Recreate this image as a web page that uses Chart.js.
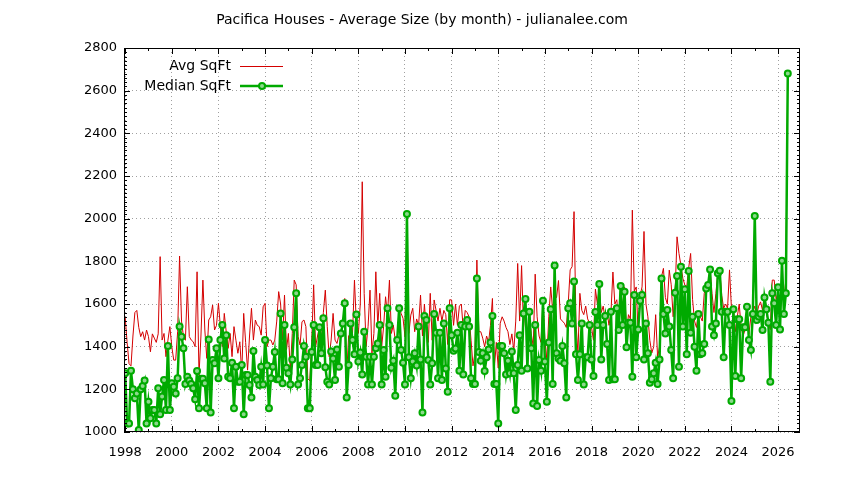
<!DOCTYPE html>
<html>
<head>
<meta charset="utf-8">
<script src="https://cdn.jsdelivr.net/npm/chart.js@4.4.1/dist/chart.umd.min.js"></script>
<style>html,body{margin:0;background:#fff}canvas{display:block}</style>
</head>
<body>
<canvas id="chart" width="844" height="480"></canvas>
<script>
const chartTitle = 'Pacifica Houses - Average Size (by month) - julianalee.com';
const seriesNames = ['Avg SqFt', 'Median SqFt'];
const startYear = 1998; // first month = Jan 1998, one value per month
const yearTicks = [1998,2000,2002,2004,2006,2008,2010,2012,2014,2016,2018,2020,2022,2024,2026];
const sqftTicks = [1000,1200,1400,1600,1800,2000,2200,2400,2600,2800];

const avgSqft = [
  1540,1420,1320,1310,1450,1560,1570,1490,1447,1470,1431,1478,1447,1376,1460,1440,1420,1460,1822,1431,1462,1353,1430,1494,
  1400,1337,1337,1470,1825,1520,1447,1430,1681,1447,1431,1423,1400,1751,1267,1450,1712,1478,1345,1525,1540,1595,1478,
  1500,1603,1494,1400,1556,1470,1392,1462,1353,1494,1430,1369,1423,1275,1556,1420,1290,1450,1580,1431,1525,1500,1494,1454,
  1587,1603,1400,1431,1431,1408,1431,1520,1658,1600,1431,1642,1384,1462,1290,1462,1712,1690,1447,1408,1517,1525,1494,1250,1240,1420,
  1690,1400,1450,1494,1431,1560,1665,1494,1353,1431,1556,1431,1415,1454,1470,1494,1626,1275,1450,1462,1462,1712,1501,1462,1600,2173,
  1650,1400,1494,1665,1369,1462,1751,1494,1650,1400,1494,1634,1550,1712,1462,1501,1431,1415,1587,1556,1533,1447,2025,1462,1548,
  1580,1470,1530,1500,1642,1450,1600,1470,1420,1650,1430,1619,1570,1520,1580,1520,1570,1550,1410,1620,1619,1500,1600,1500,1590,
  1600,1480,1570,1560,1540,1430,1310,1370,1806,1470,1470,1440,1400,1450,1420,1500,1626,1300,1420,1300,1510,1540,1520,1490,1470,
  1410,1460,1380,1520,1790,1520,1780,1490,1600,1450,1540,1460,1400,1740,1540,1450,1420,1620,1430,1340,1540,1680,1570,1640,1630,
  1710,1530,1520,1510,1490,1600,1760,1775,2033,1510,1370,1650,1570,1550,1590,1530,1510,1490,1430,1670,1600,1680,1560,1590,1530,1560,
  1500,1560,1750,1600,1620,1520,1700,1560,1680,1460,1550,1530,2040,1660,1680,1460,1640,1680,1940,1600,1540,1430,1370,1400,
  1550,1350,1400,1728,1767,1630,1600,1759,1690,1540,1650,1915,1837,1780,1720,1690,1680,1770,1837,1620,1520,1490,1560,1540,
  1520,1650,1690,1700,1770,1650,1560,1650,1750,1760,1640,1580,1600,1580,1760,1580,1580,1470,1540,1600,1490,1450,1480,1540,
  1460,1540,1560,1590,1550,1590,1610,1570,1650,1560,1510,1480,1712,1712,1620,1660,1560,1660,1620,1712,2681
];

const medianSqft = [
  1275,1040,1040,1287,1200,1158,1181,1009,1200,1216,1241,1040,1142,1064,1103,1103,1040,1205,1083,1166,1244,1103,1403,1103,
  1228,1212,1181,1252,1494,1447,1392,1225,1259,1241,1225,1205,1153,1286,1111,1250,1250,1228,1111,1434,1091,1337,1322,
  1392,1252,1431,1501,1345,1454,1259,1252,1325,1111,1306,1236,1236,1314,1083,1267,1267,1220,1162,1380,1259,1244,1220,1306,
  1223,1431,1312,1111,1252,1306,1375,1247,1247,1556,1228,1501,1301,1275,1223,1340,1491,1650,1223,1252,1314,1403,1353,1111,1111,1375,1501,1314,
  1314,1491,1369,1533,1303,1236,1223,1377,1345,1244,1387,1306,1462,1509,1603,1162,1314,1509,1431,1364,1551,1330,1373,1270,1470,
  1353,1223,1353,1223,1353,1392,1415,1501,1223,1384,1259,1580,1501,1301,1334,1170,1431,1580,1384,1325,1223,2022,1350,1252,
  1330,1369,1312,1494,1340,1091,1544,1525,1337,1223,1322,1553,1465,1252,1465,1244,1509,1298,1189,1580,1454,1381,1391,1465,1287,
  1501,1270,1494,1525,1494,1252,1225,1225,1720,1375,1334,1369,1286,1350,1387,1419,1544,1225,1225,1040,1403,1403,1369,1270,1334,
  1275,1377,1275,1103,1314,1454,1287,1556,1623,1298,1564,1392,1134,1501,1122,1337,1287,1615,1330,1142,1419,1575,1225,1781,1369,
  1345,1334,1403,1322,1162,1580,1603,1509,1705,1365,1244,1365,1509,1223,1350,1350,1501,1340,1262,1562,1501,1694,1340,1501,1544,1412,
  1244,1564,1247,1247,1580,1478,1684,1501,1658,1397,1512,1512,1259,1642,1350,1481,1615,1642,1340,1509,1369,1231,1247,1275,
  1325,1225,1340,1720,1553,1462,1572,1494,1384,1252,1653,1731,1306,1775,1494,1669,1364,1755,1465,1540,1400,1287,1553,1365,
  1369,1412,1673,1689,1762,1494,1454,1509,1744,1756,1564,1350,1564,1564,1501,1145,1575,1262,1528,1528,1252,1491,1491,1587,
  1431,1384,1553,2012,1525,1541,1553,1478,1631,1575,1512,1236,1650,1603,1501,1678,1481,1803,1553,1650,2681
];

const RED = '#d40000', GREEN = '#00aa00', GREEN_PT = '#8cd88c';
const FAMILY = '"DejaVu Sans", sans-serif';
const TEXT_FONT = '14px ' + FAMILY;
const toPoints = arr => arr.map((v, i) => ({x: startYear + i / 12, y: v}));

// gnuplot-like frame: border, inward tics on all sides, title and key
const Frame = {
  id: 'frame',
  afterDraw(chart) {
    const {ctx, chartArea: {left, right, top, bottom}, scales: {x, y}} = chart;
    ctx.save();
    ctx.strokeStyle = '#000'; ctx.lineWidth = 1;
    ctx.beginPath();
    for (let v = sqftTicks[0]; v <= sqftTicks[sqftTicks.length - 1]; v += 20) {
      const py = Math.round(y.getPixelForValue(v)) + 0.5, len = v % 200 === 0 ? 6 : 3;
      ctx.moveTo(left, py); ctx.lineTo(left + len, py);
      ctx.moveTo(right, py); ctx.lineTo(right - len, py);
    }
    for (let yr = yearTicks[0]; yr <= yearTicks[yearTicks.length - 1]; yr++) {
      const px = Math.round(x.getPixelForValue(yr)) + 0.5, len = yr % 2 === 0 ? 6 : 3;
      ctx.moveTo(px, bottom); ctx.lineTo(px, bottom - len);
      ctx.moveTo(px, top); ctx.lineTo(px, top + len);
    }
    ctx.stroke();
    ctx.strokeRect(left + 0.5, top + 0.5, right - left - 1, bottom - top - 1);

    ctx.fillStyle = '#000'; ctx.font = TEXT_FONT; ctx.textBaseline = 'middle';
    ctx.textAlign = 'center';
    ctx.fillText(chartTitle, chart.width / 2, 20);

    ctx.textAlign = 'right';
    ctx.fillText(seriesNames[0], 231, 66);
    ctx.fillText(seriesNames[1], 231, 86);
    ctx.strokeStyle = RED; ctx.lineWidth = 1;
    ctx.beginPath(); ctx.moveTo(240, 66.5); ctx.lineTo(283, 66.5); ctx.stroke();
    ctx.strokeStyle = GREEN; ctx.lineWidth = 2.5;
    ctx.beginPath(); ctx.moveTo(240, 86); ctx.lineTo(283, 86); ctx.stroke();
    ctx.fillStyle = GREEN_PT; ctx.lineWidth = 2;
    ctx.beginPath(); ctx.arc(262, 86, 3, 0, Math.PI * 2); ctx.fill(); ctx.stroke();
    ctx.restore();
  }
};

new Chart(document.getElementById('chart'), {
  type: 'line',
  data: {
    datasets: [
      {label: seriesNames[1], data: toPoints(medianSqft), borderColor: GREEN, borderWidth: 2.5,
       pointRadius: 3, pointBorderWidth: 2, pointBorderColor: GREEN, pointBackgroundColor: GREEN_PT, tension: 0},
      {label: seriesNames[0], data: toPoints(avgSqft), borderColor: RED, borderWidth: 1,
       pointRadius: 0, tension: 0}
    ]
  },
  options: {
    responsive: false, animation: false, devicePixelRatio: 1,
    layout: {padding: {top: 48, right: 44, left: 0, bottom: 0}},
    plugins: {legend: {display: false}, tooltip: {enabled: false}},
    scales: {
      x: {
        type: 'linear', min: 1997.95, max: 2026.94,
        afterBuildTicks: s => { s.ticks = yearTicks.map(v => ({value: v})); },
        afterFit: s => { s.height = 48; },
        grid: {color: '#a0a0a0', lineWidth: 1, drawTicks: false},
        border: {display: false, dash: [1, 3]},
        ticks: {font: {family: FAMILY, size: 13}, color: '#000', padding: 13,
                maxRotation: 0, autoSkip: false, callback: v => String(v)}
      },
      y: {
        min: 1000, max: 2800,
        afterBuildTicks: s => { s.ticks = sqftTicks.map(v => ({value: v})); },
        afterFit: s => { s.width = 124; },
        grid: {color: '#a0a0a0', lineWidth: 1, drawTicks: false},
        border: {display: false, dash: [1, 3]},
        ticks: {font: {family: FAMILY, size: 13}, color: '#000', padding: 7,
                callback: v => String(v)}
      }
    }
  },
  plugins: [Frame]
});
</script>
</body>
</html>
